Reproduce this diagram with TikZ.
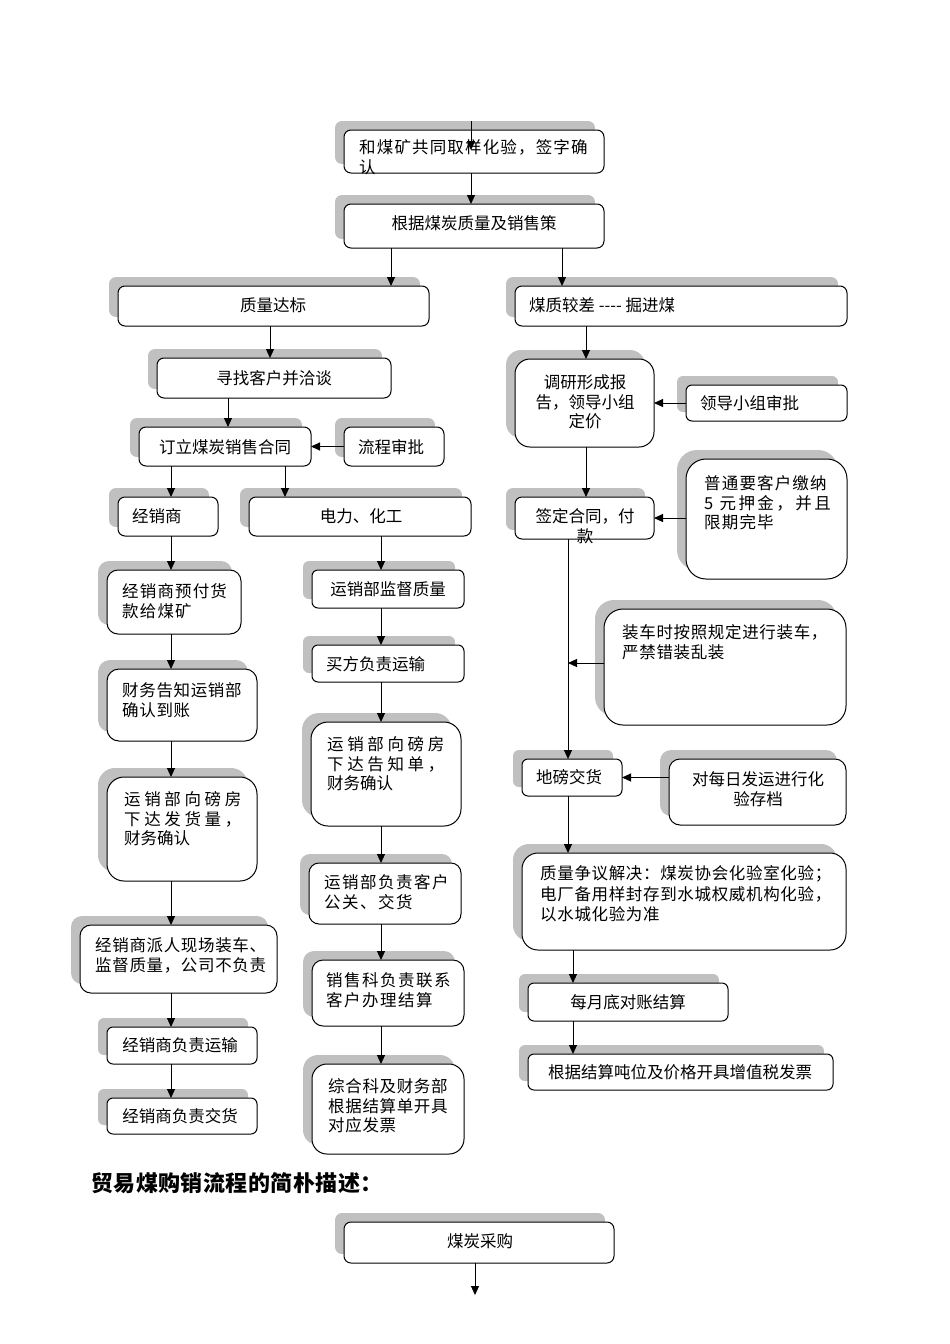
\documentclass[tikz,border=0pt]{standalone}
\usepackage{fontspec}
\setmainfont{Liberation Serif}
\newfontfamily\cjk{Noto Sans CJK SC}
\newfontfamily\cjkw[LetterSpace=22]{Noto Sans CJK SC}
\newfontfamily\cjkm[LetterSpace=15]{Noto Sans CJK SC}
\newfontfamily\cjka[LetterSpace=4]{Noto Sans CJK SC}
\newfontfamily\cjkb[LetterSpace=7]{Noto Sans CJK SC}
\newfontfamily\cjkc[LetterSpace=9]{Noto Sans CJK SC}
\newfontfamily\cjkh[LetterSpace=2]{Noto Sans CJK SC}
\usetikzlibrary{arrows.meta}
\definecolor{shadowc}{HTML}{C0C0C0}
\tikzset{
  boxst/.style={draw=black, line width=1pt, fill=white, inner sep=0pt, outer sep=0pt},
  txt/.style={font=\cjk\fontsize{16.5}{19.5}\selectfont, inner sep=0pt, align=left, text=black},
  txtA/.style={txt, font=\cjka\fontsize{16.5}{19.5}\selectfont},
  txtB/.style={txt, font=\cjkb\fontsize{16.5}{19.5}\selectfont},
  txtC/.style={txt, font=\cjkc\fontsize{16.5}{19.5}\selectfont},
  txtc/.style={txt, align=center},
  arr/.style={line width=1pt, -{Triangle[length=9pt,width=8pt]}},
}
\newcommand\flowbox[6]{%
  \fill[shadowc, rounded corners=#6pt] ({#2-9},{#3-9}) rectangle ({#4-9},{#5-9});
  \node[boxst, rounded corners=#6pt, minimum width={(#4-#2)*1pt}, minimum height={(#5-#3)*1pt}] (#1) at ({(#2+#4)/2},{(#3+#5)/2}) {};
}
\begin{document}
\begin{tikzpicture}[x=1pt,y=-1pt]
\fill[white] (0,0) rectangle (950,1344);
\useasboundingbox (0,0) rectangle (950,1344);

% column coordinates
\coordinate (c471) at (471,0);
\coordinate (c391) at (391,0);
\coordinate (c562) at (562,0);
\coordinate (c270) at (270,0);
\coordinate (c228) at (228,0);
\coordinate (c171) at (171,0);
\coordinate (c285) at (285,0);
\coordinate (c381) at (381,0);
\coordinate (c586) at (586,0);
\coordinate (c568) at (568,0);
\coordinate (c573) at (573,0);
\coordinate (c475) at (475,0);
\coordinate (r518) at (0,518);

% boxes
\flowbox{b1}{344}{130}{604}{173}{7}
\flowbox{b2}{344}{204}{604}{248}{7}
\flowbox{zl}{118}{286}{429}{326}{7}
\flowbox{mz}{515}{286}{847}{326}{7}
\flowbox{xz}{157}{358}{391}{398}{7}
\flowbox{dl}{139}{427}{311}{466}{7}
\flowbox{lc}{344}{427}{444}{466}{7}
\flowbox{jx}{118}{497}{218}{536}{7}
\flowbox{dh}{249}{497}{471}{536}{7}
\flowbox{yf}{107}{570}{241}{634}{11}
\flowbox{cw}{107}{669}{257}{741}{12}
\flowbox{yx}{107}{777}{257}{881}{17}
\flowbox{pr}{80}{925}{277}{993}{11}
\flowbox{fy}{107}{1027}{257}{1064}{6}
\flowbox{fj}{107}{1098}{257}{1134}{6}
\flowbox{jd}{312}{570}{464}{608}{6}
\flowbox{mf}{312}{645}{464}{682}{6}
\flowbox{gz}{311}{722}{461}{826}{17}
\flowbox{gg}{309}{863}{461}{924}{10}
\flowbox{xs}{312}{960}{464}{1026}{11}
\flowbox{zh}{312}{1064}{464}{1154}{15}
\flowbox{dy}{515}{359}{654}{447}{15}
\flowbox{ld}{686}{385}{847}{421}{6}
\flowbox{qd}{515}{497}{654}{539}{7}
\flowbox{pt}{686}{459}{847}{579}{20}
\flowbox{zc}{604}{609}{846}{725}{19}
\flowbox{db}{522}{759}{622}{796}{6}
\flowbox{dr}{669}{759}{846}{825}{11}
\flowbox{zy}{522}{853}{846}{950}{16}
\flowbox{my}{528}{983}{728}{1021}{6}
\flowbox{js}{528}{1054}{833}{1090}{6}
\flowbox{cg}{344}{1222}{614}{1263}{7}

% texts
\node[txtB, anchor=north west] (tb1) at (359,139.5) {和煤矿共同取样化验，签字确\\认};
\node[txt] (tb2) at (474,223) {根据煤炭质量及销售策};
\node[txt] (tzl) at (273,305) {质量达标};
\node[txt, anchor=west] (tmz) at (529,305) {煤质较差 ---- 掘进煤};
\node[txt] (txz) at (274,378) {寻找客户并洽谈};
\node[txt] (tdl) at (225,447) {订立煤炭销售合同};
\node[txt] (tlc) at (391,447) {流程审批};
\node[txt, anchor=west] (tjx) at (132,516) {经销商};
\node[txt] (tdh) at (361,516) {电力、化工};
\node[txtB, anchor=north west] (tyf) at (122,583.5) {经销商预付货\\款给煤矿};
\node[txtA, anchor=north west] (tcw) at (122,682.5) {财务告知运销部\\确认到账};
\node[txt, anchor=north west] (tyx) at (124,791.5) {{\cjkw 运销部向磅房}\\{\cjkw 下达发货量，}\\财务确认};
\node[txtA, anchor=north west] (tpr) at (95,937.5) {经销商派人现场装车、\\监督质量，公司不负责};
\node[txt] (tfy) at (180,1045) {经销商负责运输};
\node[txt] (tfj) at (180,1116) {经销商负责交货};
\node[txt] (tjd) at (388,589) {运销部监督质量};
\node[txt, anchor=west] (tmf) at (326,664) {买方负责运输};
\node[txt, anchor=north west] (tgz) at (327,736.5) {{\cjkw 运销部向磅房}\\{\cjkw 下达告知单，}\\财务确认};
\node[txtC, anchor=north west] (tgg) at (324,874.5) {运销部负责客户\\公关、交货};
\node[txtC, anchor=north west] (txs) at (326,972.5) {销售科负责联系\\客户办理结算};
\node[txtA, anchor=north west] (tzh) at (328,1078.5) {综合科及财务部\\根据结算单开具\\对应发票};
\node[txtc, anchor=north] (tdy) at (585,374.5) {调研形成报\\告，领导小组\\定价};
\node[txt, anchor=west] (tld) at (700,403) {领导小组审批};
\node[txtc, anchor=north] (tqd) at (585,508.5) {签定合同，付\\款};
\node[txtB, anchor=north west] (tpt) at (704,475.5) {普通要客户缴纳\\{\cjkm 5 元押金，并且}\\限期完毕};
\node[txtA, anchor=north west] (tzc) at (622,624.5) {装车时按照规定进行装车，\\严禁错装乱装};
\node[txt, anchor=west] (tdb) at (536,777) {地磅交货};
\node[txtc, anchor=north] (tdr) at (758,771.5) {对每日发运进行化\\验存档};
\node[txt, anchor=north west, font=\cjka\fontsize{16.5}{20.3}\selectfont] (tzy) at (540,865.5) {质量争议解决：煤炭协会化验室化验；\\电厂备用样封存到水城权威机构化验，\\以水城化验为准};
\node[txt] (tmy) at (628,1002) {每月底对账结算};
\node[txt] (tjs) at (680,1072) {根据结算吨位及价格开具增值税发票};
\node[txt, anchor=west, font=\cjkh\bfseries\fontsize{22}{25}\selectfont] (head) at (91,1183) {贸易煤购销流程的简朴描述：};
\node[txt] (tcg) at (480,1241) {煤炭采购};

% connectors
\coordinate (s0) at (471,121);
\coordinate (e0) at (471,150);
\draw[arr] (s0) -- (e0);
\draw[arr] (b1.south -| c471) -- (b2.north -| c471);
\draw[arr] (b2.south -| c391) -- (zl.north -| c391);
\draw[arr] (b2.south -| c562) -- (mz.north -| c562);
\draw[arr] (zl.south -| c270) -- (xz.north -| c270);
\draw[arr] (xz.south -| c228) -- (dl.north -| c228);
\draw[arr] (lc.west) -- (dl.east);
\draw[arr] (dl.south -| c171) -- (jx.north -| c171);
\draw[arr] (dl.south -| c285) -- (dh.north -| c285);
\draw[arr] (jx.south -| c171) -- (yf.north -| c171);
\draw[arr] (yf.south -| c171) -- (cw.north -| c171);
\draw[arr] (cw.south -| c171) -- (yx.north -| c171);
\draw[arr] (yx.south -| c171) -- (pr.north -| c171);
\draw[arr] (pr.south -| c171) -- (fy.north -| c171);
\draw[arr] (fy.south -| c171) -- (fj.north -| c171);
\draw[arr] (dh.south -| c381) -- (jd.north -| c381);
\draw[arr] (jd.south -| c381) -- (mf.north -| c381);
\draw[arr] (mf.south -| c381) -- (gz.north -| c381);
\draw[arr] (gz.south -| c381) -- (gg.north -| c381);
\draw[arr] (gg.south -| c381) -- (xs.north -| c381);
\draw[arr] (xs.south -| c381) -- (zh.north -| c381);
\draw[arr] (mz.south -| c586) -- (dy.north -| c586);
\draw[arr] (ld.west) -- (dy.east |- ld.west);
\draw[arr] (dy.south -| c586) -- (qd.north -| c586);
\draw[arr] (pt.west |- r518) -- (qd.east |- r518);
\draw[arr] (qd.south -| c568) -- (db.north -| c568);
\coordinate (j1) at (568,663);
\draw[arr] (zc.west |- j1) -- (j1);
\draw[arr] (dr.west |- db.east) -- (db.east);
\draw[arr] (db.south -| c568) -- (zy.north -| c568);
\draw[arr] (zy.south -| c573) -- (my.north -| c573);
\draw[arr] (my.south -| c573) -- (js.north -| c573);
\coordinate (e1) at (475,1295);
\draw[arr] (cg.south -| c475) -- (e1);
\end{tikzpicture}
\end{document}
